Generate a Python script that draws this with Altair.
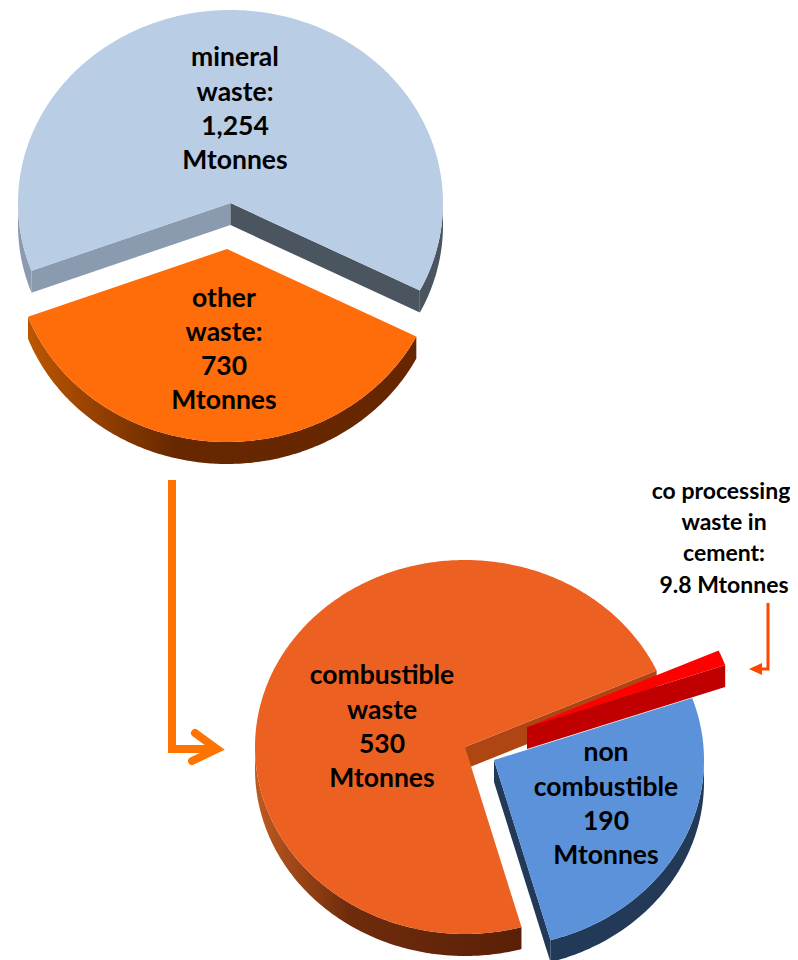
import math
import altair as alt
import pandas as pd

# values (Mtonnes)
total_groups = ["mineral waste", "other waste"]
total_values = [1254, 730]
other_groups = ["combustible waste", "co processing waste in cement", "non combustible"]
other_values = [530, 9.8, 190]

# text labels
labels = [
    ("mineral", 235, 58, 26.5), ("waste:", 235, 93, 26.5), ("1,254", 235, 127, 26.5), ("Mtonnes", 235, 161, 26.5),
    ("other", 224, 299, 26.5), ("waste:", 224, 333, 26.5), ("730", 224, 367, 26.5), ("Mtonnes", 224, 401, 26.5),
    ("combustible", 382, 676, 26.5), ("waste", 382, 711, 26.5), ("530", 382, 745, 26.5), ("Mtonnes", 382, 779, 26.5),
    ("non", 606, 753, 26.5), ("combustible", 606, 788, 26.5), ("190", 606, 822, 26.5), ("Mtonnes", 606, 856, 26.5),
    ("co processing", 721, 492, 23), ("waste in", 724, 523, 23), ("cement:", 724, 554, 23), ("9.8 Mtonnes", 724, 586, 23),
]

RX1, RY1 = 212.5, 193
RX2, RY2 = 210, 187
DEPTH = 22
X = alt.Scale(domain=[8, 790], nice=False, zero=False)
Y = alt.Scale(domain=[960, 8], nice=False, zero=False)


def arc(c, rx, ry, t0, t1):
    n = max(2, int(abs(t1 - t0) * 1.5))
    out = []
    for k in range(n + 1):
        t = math.radians(t0 + (t1 - t0) * k / n)
        out.append((c[0] + rx * math.sin(t), c[1] - ry * math.cos(t)))
    return out


def wedge(c, rx, ry, t0, t1):
    return [c] + arc(c, rx, ry, t0, t1)


def band(c, rx, ry, t0, t1):
    a = arc(c, rx, ry, t0, t1)
    return a + [(x, y + DEPTH) for x, y in reversed(a)]


def face(c, p):
    return [c, p, (p[0], p[1] + DEPTH), (c[0], c[1] + DEPTH)]


def poly(points, fill):
    df = pd.DataFrame(points, columns=["x", "y"])
    df["i"] = range(len(df))
    return alt.Chart(df).mark_line(
        fill=fill, stroke="transparent", strokeWidth=0, interpolate="linear-closed"
    ).encode(
        x=alt.X("x:Q", scale=X, axis=None),
        y=alt.Y("y:Q", scale=Y, axis=None),
        order="i:Q",
    )


def stroke(points, color, width, cap="butt"):
    df = pd.DataFrame(points, columns=["x", "y"])
    df["i"] = range(len(df))
    return alt.Chart(df).mark_line(
        color=color, strokeWidth=width, strokeCap=cap, strokeJoin="miter"
    ).encode(
        x=alt.X("x:Q", scale=X, axis=None),
        y=alt.Y("y:Q", scale=Y, axis=None),
        order="i:Q",
    )


def grad(stops):
    return alt.Gradient(
        gradient="linear", x1=0, x2=1, y1=0, y2=0,
        stops=[alt.GradientStop(offset=o, color=c) for o, c in stops],
    )


layers = []

# first pie
total1 = sum(total_values)
start1 = 117
mid1 = start1 + 360 * total_values[1] / total1
C_MINERAL = (230.5, 203)
C_OTHER = (227, 249)
mineral_end = arc(C_MINERAL, RX1, RY1, mid1, mid1)[0]
mineral_start = arc(C_MINERAL, RX1, RY1, start1, start1)[0]
layers += [
    poly(band(C_MINERAL, RX1, RY1, mid1, 270), "#8B9BAF"),
    poly(band(C_MINERAL, RX1, RY1, 90, start1), "#4B555F"),
    poly(face(C_MINERAL, mineral_end), "#8B9BAF"),
    poly(face(C_MINERAL, mineral_start), "#4B555F"),
    poly(wedge(C_MINERAL, RX1, RY1, mid1, start1 + 360), "#B9CDE5"),
    poly(band(C_OTHER, RX1, RY1, start1, mid1),
         grad([(0, "#BC5600"), (0.38, "#672800"), (1, "#662700")])),
    poly(wedge(C_OTHER, RX1, RY1, start1, mid1), "#FF6D0B"),
]

# second pie
total2 = sum(other_values)
start2 = 164.4
s_comb = 360 * other_values[0] / total2
s_red = 360 * other_values[1] / total2
comb_end = start2 + s_comb
red_end = comb_end + s_red
C_COMB = (465, 747)
C_BLUE = (494, 760)
C_RED = (527, 727)
comb_tip = arc(C_COMB, RX2, RY2, comb_end, comb_end)[0]
blue_tip = arc(C_BLUE, RX2, RY2, start2, start2)[0]
red_tip = arc(C_RED, RX2, RY2, red_end, red_end)[0]
layers += [
    poly(band(C_COMB, RX2, RY2, start2, 270),
         grad([(0, "#C05A20"), (0.35, "#6F2C0C"), (1, "#5A2007")])),
    poly(face(C_COMB, comb_tip), "#AE4512"),
    poly(wedge(C_COMB, RX2, RY2, start2, comb_end), "#EC6122"),
    poly(band(C_BLUE, RX2, RY2, 90, start2), "#223A58"),
    poly(face(C_BLUE, blue_tip), "#223A58"),
    poly(wedge(C_BLUE, RX2, RY2, red_end - 360, start2), "#5B92D9"),
    poly(face(C_RED, red_tip), "#C00000"),
    poly(wedge(C_RED, RX2, RY2, comb_end, red_end), "#FF0000"),
]

# arrows
layers += [
    stroke([(172, 480), (172, 749), (212, 749)], "#FF7300", 8),
    stroke([(195, 733), (217, 749), (192, 761)], "#FF7300", 8, "round"),
    stroke([(768, 603), (768, 669), (758, 669)], "#FF4500", 3),
    poly([(749, 669), (762, 663), (762, 675)], "#FF4500"),
]

# text
text_df = pd.DataFrame(labels, columns=["text", "x", "y", "size"])
layers.append(
    alt.Chart(text_df).mark_text(
        font="Lato", fontWeight="bold", color="#000000", align="center", baseline="middle"
    ).encode(
        x=alt.X("x:Q", scale=X, axis=None),
        y=alt.Y("y:Q", scale=Y, axis=None),
        text="text:N",
        size=alt.Size("size:Q", scale=None, legend=None),
    )
)

chart = alt.layer(*layers).properties(
    width=782, height=952, padding=0, background="#FFFFFF",
    autosize=alt.AutoSizeParams(type="none"),
).configure_view(stroke=None)

chart.save("out.html", embed_options={"renderer": "svg", "actions": False})
